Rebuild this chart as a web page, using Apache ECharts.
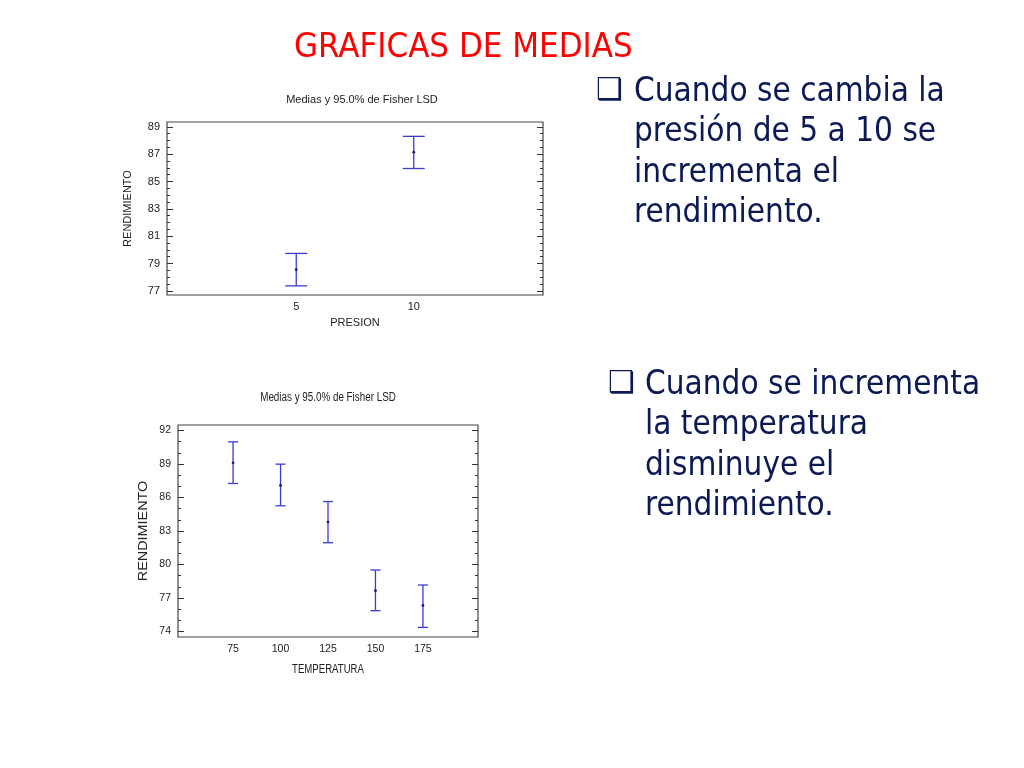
<!DOCTYPE html>
<html>
<head>
<meta charset="utf-8">
<script src="https://cdn.jsdelivr.net/npm/echarts@6/dist/echarts.min.js"></script>
<style>
  html, body { margin: 0; padding: 0; background: #fff; }
  #chart { width: 1024px; height: 768px; }
</style>
</head>
<body>
<div id="chart"></div>
<script>
// top plot: PRESION
const presion = [5, 10];
const presionMean = [78.56, 87.14];
const presionLow = [77.37, 85.95];
const presionHigh = [79.74, 88.3];
const presionYTicks = [77, 79, 81, 83, 85, 87, 89];

// bottom plot: TEMPERATURA
const temperatura = [75, 100, 125, 150, 175];
const tempMean = [89.11, 87.08, 83.8, 77.65, 76.33];
const tempLow = [87.26, 85.26, 81.95, 75.86, 74.36];
const tempHigh = [90.99, 88.99, 85.64, 79.5, 78.16];
const tempYTicks = [74, 77, 80, 83, 86, 89, 92];

const bullet1 = ["Cuando se cambia la", "presión de 5 a 10 se", "incrementa el", "rendimiento."];
const bullet2 = ["Cuando se incrementa", "la temperatura", "disminuye el", "rendimiento."];

const chart = echarts.init(document.getElementById("chart"));

// minor tick positions between the labelled ticks
function minorTicks(major, parts) {
  const out = [];
  for (let i = 0; i < major.length - 1; i++) {
    const step = (major[i + 1] - major[i]) / parts;
    for (let k = 1; k < parts; k++) out.push(major[i] + k * step);
  }
  return out;
}

function errorBars(xs, mean, low, high, capHalf, gridIndex) {
  return {
    type: "custom",
    xAxisIndex: gridIndex,
    yAxisIndex: gridIndex * 4,
    data: xs.map((x, i) => [x, mean[i], low[i], high[i]]),
    renderItem: function (params, api) {
      const m = api.coord([api.value(0), api.value(1)]);
      const lo = api.coord([api.value(0), api.value(2)]);
      const hi = api.coord([api.value(0), api.value(3)]);
      const st = { stroke: "#3b3bd6", lineWidth: 1.3 };
      return {
        type: "group",
        children: [
          { type: "line", shape: { x1: lo[0], y1: lo[1], x2: hi[0], y2: hi[1] }, style: st },
          { type: "line", shape: { x1: hi[0] - capHalf, y1: hi[1], x2: hi[0] + capHalf, y2: hi[1] }, style: st },
          { type: "line", shape: { x1: lo[0] - capHalf, y1: lo[1], x2: lo[0] + capHalf, y2: lo[1] }, style: st },
          { type: "circle", shape: { cx: m[0], cy: m[1], r: 1.4 }, style: { fill: "#1a1a6a" } },
        ],
      };
    },
  };
}

// four y axes per plot: left labels+major, left minor, right major, right minor
function yAxes(gridIndex, min, max, major, parts, font, name, nameGap) {
  const minor = minorTicks(major, parts);
  const base = {
    gridIndex: gridIndex,
    type: "value",
    min: min,
    max: max,
    splitLine: { show: false },
    axisLine: { show: false, onZero: false },
  };
  return [
    Object.assign({}, base, {
      position: "left",
      name: name,
      nameLocation: "middle",
      nameGap: nameGap,
      nameTextStyle: font.name,
      axisTick: { show: true, inside: true, length: 6, customValues: major, lineStyle: { color: "#333" } },
      axisLabel: { customValues: major, color: "#222", fontFamily: font.family, fontSize: font.size, margin: 7 },
    }),
    Object.assign({}, base, {
      position: "left",
      axisTick: { show: true, inside: true, length: 3, customValues: minor, lineStyle: { color: "#333" } },
      axisLabel: { show: false },
    }),
    Object.assign({}, base, {
      position: "right",
      axisTick: { show: true, inside: true, length: 6, customValues: major, lineStyle: { color: "#333" } },
      axisLabel: { show: false },
    }),
    Object.assign({}, base, {
      position: "right",
      axisTick: { show: true, inside: true, length: 3, customValues: minor, lineStyle: { color: "#333" } },
      axisLabel: { show: false },
    }),
  ];
}

const topFont = {
  family: "Liberation Sans",
  size: 11,
  name: { color: "#222", fontFamily: "Liberation Sans", fontSize: 11 },
};
const bottomFont = {
  family: "Liberation Sans",
  size: 10.5,
  name: { color: "#222", fontFamily: "Liberation Sans", fontSize: 12 },
};

const option = {
  backgroundColor: "#fff",
  animation: false,
  title: [
    {
      text: "GRAFICAS DE MEDIAS",
      left: 289,
      top: 26,
      textStyle: { color: "#ff0000", fontFamily: "DejaVu Sans Condensed", fontWeight: "normal", fontSize: 34.5 },
    },
    {
      text: "Medias y 95.0% de Fisher LSD",
      left: 357,
      top: 89,
      textAlign: "center",
      textStyle: { color: "#222", fontFamily: "Liberation Sans", fontWeight: "normal", fontSize: 11 },
    },
  ],
  grid: [
    { left: 167, top: 122, width: 376, height: 173, show: true, borderColor: "#444", borderWidth: 1.2, backgroundColor: "transparent" },
    { left: 178, top: 425, width: 300, height: 212, show: true, borderColor: "#444", borderWidth: 1.2, backgroundColor: "transparent" },
  ],
  xAxis: [
    {
      gridIndex: 0,
      type: "value",
      min: -0.5,
      max: 15.5,
      name: "PRESION",
      nameLocation: "middle",
      nameGap: 22,
      nameTextStyle: topFont.name,
      splitLine: { show: false },
      axisLine: { show: false, onZero: false },
      axisTick: { show: false },
      axisLabel: { customValues: presion, color: "#222", fontFamily: topFont.family, fontSize: 11, margin: 6 },
    },
    {
      gridIndex: 1,
      type: "value",
      min: 46,
      max: 204,
      splitLine: { show: false },
      axisLine: { show: false, onZero: false },
      axisTick: { show: false },
      axisLabel: { customValues: temperatura, color: "#222", fontFamily: bottomFont.family, fontSize: 10.5, margin: 7 },
    },
  ],
  yAxis: yAxes(0, 76.7, 89.35, presionYTicks, 4, topFont, "RENDIMIENTO", 34).concat(
    yAxes(1, 73.5, 92.5, tempYTicks, 3, bottomFont, "", 27)
  ),
  series: [
    errorBars(presion, presionMean, presionLow, presionHigh, 11, 0),
    errorBars(temperatura, tempMean, tempLow, tempHigh, 5, 1),
  ],
  graphic: [
    {
      type: "text",
      x: 328,
      y: 398,
      scaleX: 0.82,
      style: {
        text: "Medias y 95.0% de Fisher LSD",
        fontSize: 12,
        fontFamily: "Liberation Sans",
        fill: "#222",
        align: "center",
        verticalAlign: "middle",
      },
    },
    {
      type: "text",
      x: 328,
      y: 670,
      scaleX: 0.8,
      style: {
        text: "TEMPERATURA",
        fontSize: 12,
        fontFamily: "Liberation Sans",
        fill: "#222",
        align: "center",
        verticalAlign: "middle",
      },
    },
    {
      type: "text",
      x: 144,
      y: 531,
      rotation: Math.PI / 2,
      scaleX: 1.2,
      style: {
        text: "RENDIMIENTO",
        fontSize: 12,
        fontFamily: "Liberation Sans",
        fill: "#222",
        align: "center",
        verticalAlign: "middle",
      },
    },
    { type: "text", left: 596, top: 76, style: { text: "\u2751", fontSize: 30, fontFamily: "DejaVu Sans", fill: "#0b1a55" } },
    {
      type: "text",
      left: 634,
      top: 72,
      style: { text: bullet1.join("\n"), fontSize: 33, lineHeight: 40.5, fontFamily: "DejaVu Sans Condensed", fill: "#0b1a55" },
    },
    { type: "text", left: 608, top: 369, style: { text: "\u2751", fontSize: 30, fontFamily: "DejaVu Sans", fill: "#0b1a55" } },
    {
      type: "text",
      left: 645,
      top: 365,
      style: { text: bullet2.join("\n"), fontSize: 33, lineHeight: 40.5, fontFamily: "DejaVu Sans Condensed", fill: "#0b1a55" },
    },
  ],
};

chart.setOption(option);
</script>
</body>
</html>
